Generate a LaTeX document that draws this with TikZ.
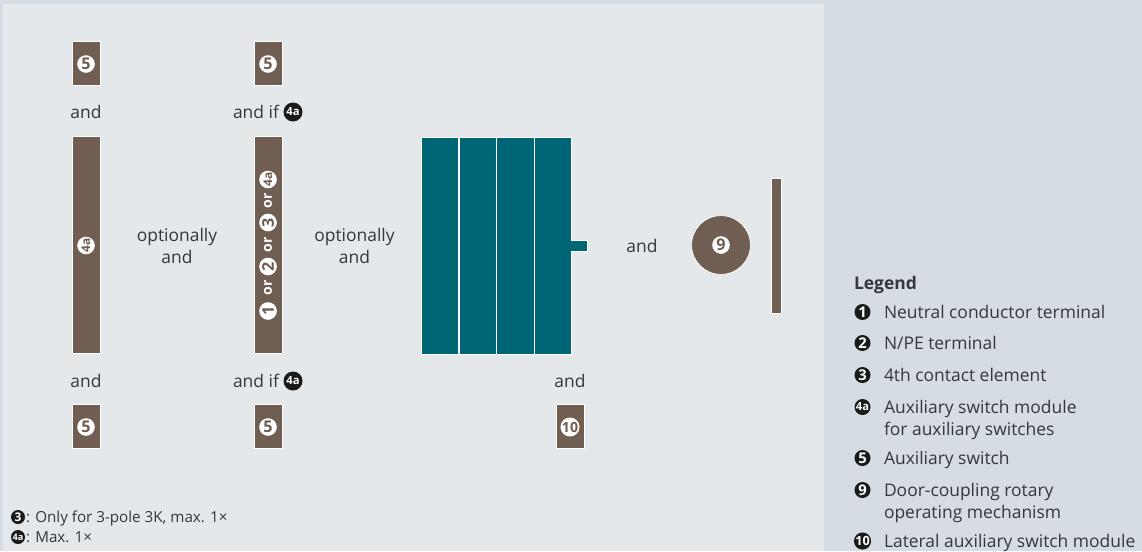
\documentclass[tikz,border=0pt]{standalone}
\usepackage{fontspec}
\setmainfont{Open Sans}
\usepackage{xcolor}
\definecolor{panelout}{HTML}{D5DCE3}
\definecolor{panelin}{HTML}{E4E8EB}
\definecolor{partbrown}{HTML}{715E53}
\definecolor{partteal}{HTML}{006675}
\definecolor{textdark}{HTML}{33383C}
\definecolor{dotblack}{HTML}{1A1A1A}
\tikzset{>=stealth}
\tikzset{
  lbl/.style={text=textdark, font=\fontsize{12.4}{16.2}\selectfont, align=center},
  lgd/.style={text=textdark, font=\fontsize{12.4}{15.6}\selectfont, align=left, anchor=base west},
  foot/.style={text=textdark, font=\fontsize{10.8}{12}\selectfont, anchor=base west},
  part/.style={fill=partbrown, draw=white, line width=.5pt},
  smallpart/.style={part, minimum width=.7cm, minimum height=1.1cm},
  longpart/.style={part, minimum width=.7cm, minimum height=5.425cm},
  pole/.style={fill=partteal, draw=white, line width=.3pt, minimum width=.944cm, minimum height=5.425cm},
  wdot/.style={circle, fill=white, text=partbrown, minimum size=.44cm, font=\fontsize{11.5}{11.5}\selectfont\bfseries},
  wdotsm/.style={wdot, font=\fontsize{8.5}{8.5}\selectfont\bfseries},
  bdot/.style={circle, fill=dotblack, text=white, minimum size=.4cm, font=\fontsize{10.5}{10.5}\selectfont\bfseries},
  bdotsm/.style={bdot, font=\fontsize{8}{8}\selectfont\bfseries},
  orword/.style={rotate=90, text=white, font=\fontsize{10}{10}\selectfont\bfseries}
}
\begin{document}
\begin{tikzpicture}[inner sep=0pt, outer sep=0pt, x=.025cm, y=-.025cm]
\fill[panelout] (0, 0) rectangle (1142, 551);
\fill[panelin] (3, 4) rectangle (824, 551);
% first column
\node[smallpart] (topa) at (86, 63.8) {};
\node[wdot] (topadot) at (86, 64) {5};
\node[lbl] (anda) at (86, 112) {and};
\node[longpart] (longa) at (86, 245.3) {};
\node[wdotsm, rotate=90] (longadot) at (86, 245.5) {4a};
\node[lbl] (andb) at (86, 381) {and};
\node[smallpart] (bota) at (86, 426.8) {};
\node[wdot] (botadot) at (86, 427) {5};
\node[lbl] (opta) at (177, 246) {optionally\\and};
% second column
\node[smallpart] (topb) at (268, 63.8) {};
\node[wdot] (topbdot) at (268, 64) {5};
\node[lbl] (ifa) at (256, 112) {and if};
\node[bdotsm, minimum size=.475cm] (ifadot) at (293, 112) {4a};
\node[longpart] (longb) at (268, 245.3) {};
\node[wdot, rotate=90] (one) at (268, 311) {1};
\node[orword] (ora) at (268, 288) {or};
\node[wdot, rotate=90] (two) at (268, 266.5) {2};
\node[orword] (orb) at (268, 244.5) {or};
\node[wdot, rotate=90] (three) at (268, 222.5) {3};
\node[orword] (orc) at (268, 201) {or};
\node[wdotsm, rotate=90] (four) at (268, 179.5) {4a};
\node[lbl] (ifb) at (256, 381) {and if};
\node[bdotsm, minimum size=.475cm] (ifbdot) at (293, 381) {4a};
\node[smallpart] (botb) at (268, 426.8) {};
\node[wdot] (botbdot) at (268, 427) {5};
\node[lbl] (optb) at (354.5, 246) {optionally\\and};
% breaker
\node[pole, minimum width=.375cm, minimum height=.275cm] (tab) at (579.5, 245.5) {};
\node[pole] (polea) at (439.8, 245.3) {};
\node[pole] (poleb) at (477.8, 245.3) {};
\node[pole] (polec) at (515.3, 245.3) {};
\node[pole] (poled) at (552.8, 245.3) {};
\node[pole, draw=none, minimum width=.1cm, minimum height=.25cm] (tabjoin) at (572, 245.5) {};
\node[lbl] (andc) at (570, 381) {and};
\node[smallpart] (lateral) at (570, 426.8) {};
\node[wdot, font=\fontsize{10}{10}\selectfont\bfseries] (lateraldot) at (570, 427) {10};
% door coupling
\node[lbl] (andd) at (642, 246) {and};
\node[part, circle, minimum size=1.47cm] (knob) at (721, 245) {};
\node[wdot] (knobdot) at (721, 245) {9};
\node[part, minimum width=.24cm, minimum height=3.36cm] (shaft) at (776.5, 246) {};
% notes
\node[bdot, minimum size=.35cm, font=\fontsize{8.5}{8.5}\selectfont\bfseries] (notea) at (18, 517) {3};
\node[foot] (noteatext) at (26, 522) {: Only for 3-pole 3K, max. 1×};
\node[bdot, minimum size=.35cm, font=\fontsize{6.5}{6.5}\selectfont\bfseries] (noteb) at (18, 537) {4a};
\node[foot] (notebtext) at (26, 542) {: Max. 1×};
% legend
\node[lgd, font=\fontsize{12.4}{15.6}\selectfont\bfseries] (legend) at (854, 289) {Legend};
\node[bdot] (lgdone) at (862.5, 312) {1};
\node[lgd] (lgdonetext) at (884, 318) {Neutral conductor terminal};
\node[bdot] (lgdtwo) at (862.5, 343) {2};
\node[lgd] (lgdtwotext) at (884, 349) {N/PE terminal};
\node[bdot] (lgdthree) at (862.5, 375) {3};
\node[lgd] (lgdthreetext) at (884, 381) {4th contact element};
\node[bdotsm] (lgdfour) at (862.5, 407) {4a};
\node[lgd] (lgdfourtext) at (884, 435) {Auxiliary switch module\\for auxiliary switches};
\node[bdot] (lgdfive) at (862.5, 458) {5};
\node[lgd] (lgdfivetext) at (884, 464) {Auxiliary switch};
\node[bdot] (lgdnine) at (862.5, 490) {9};
\node[lgd] (lgdninetext) at (884, 518) {Door-coupling rotary\\operating mechanism};
\node[bdot, font=\fontsize{9}{9}\selectfont\bfseries] (lgdten) at (862.5, 541) {10};
\node[lgd] (lgdtentext) at (884, 547) {Lateral auxiliary switch module};
\end{tikzpicture}
\end{document}
